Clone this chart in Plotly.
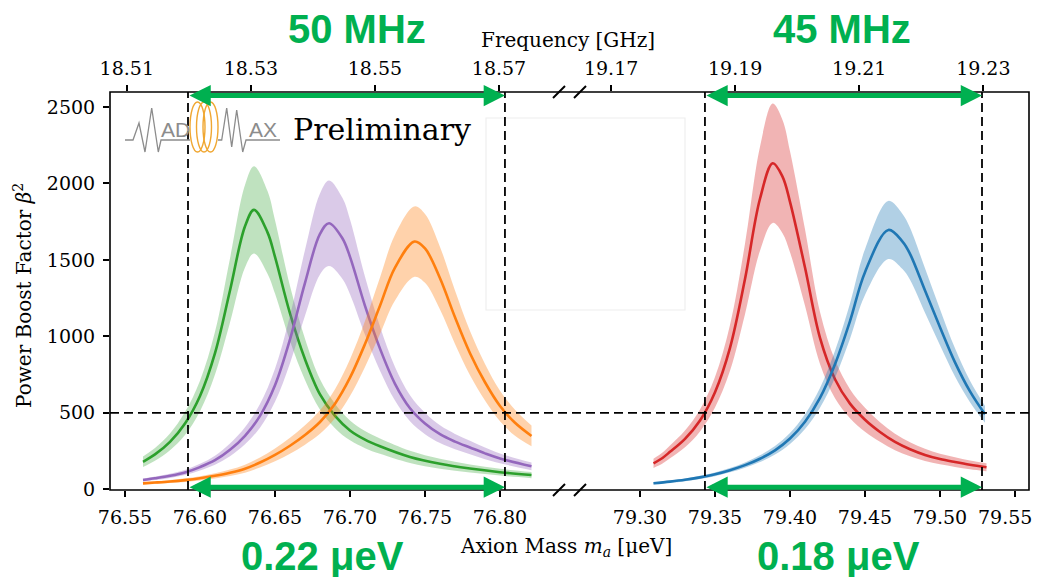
import plotly.graph_objects as go

# ---------------- data ----------------
green_x = [76.562, 76.57, 76.58, 76.59, 76.60, 76.61, 76.62, 76.63, 76.636, 76.645, 76.65, 76.66,
           76.67, 76.68, 76.69, 76.70, 76.71, 76.72, 76.74, 76.76, 76.78, 76.80, 76.821]
green_y = [180, 228, 310, 430, 610, 890, 1300, 1720, 1827, 1680, 1520, 1150,
           850, 620, 480, 385, 325, 282, 212, 167, 136, 112, 93]
green_w = [35, 42, 55, 75, 100, 140, 210, 270, 285, 270, 240, 180,
           135, 100, 80, 65, 56, 50, 40, 32, 26, 22, 20]

purple_x = [76.562, 76.57, 76.58, 76.59, 76.60, 76.61, 76.62, 76.63, 76.64, 76.65, 76.66, 76.67,
            76.68, 76.686, 76.695, 76.70, 76.71, 76.72, 76.73, 76.74, 76.75, 76.76, 76.77,
            76.78, 76.79, 76.80, 76.821]
purple_y = [61, 72, 88, 110, 145, 190, 258, 350, 480, 680, 980, 1350,
            1670, 1740, 1640, 1520, 1200, 920, 690, 530, 430, 360, 312,
            273, 235, 202, 150]
purple_w = [10, 12, 14, 17, 22, 30, 42, 56, 77, 108, 155, 215,
            265, 280, 265, 245, 190, 145, 110, 85, 70, 58, 50,
            44, 38, 32, 25]

orange_x = [76.562, 76.57, 76.58, 76.59, 76.60, 76.61, 76.62, 76.63, 76.64, 76.65, 76.66, 76.67,
            76.68, 76.69, 76.70, 76.71, 76.72, 76.73, 76.743, 76.75, 76.76, 76.77, 76.78,
            76.79, 76.80, 76.81, 76.821]
orange_y = [39, 44, 51, 60, 72, 88, 108, 135, 175, 225, 285, 355,
            440, 560, 730, 950, 1200, 1450, 1620, 1575, 1380, 1125, 890,
            700, 545, 435, 349]
orange_w = [8, 9, 10, 12, 14, 17, 21, 26, 33, 42, 52, 63,
            77, 95, 120, 150, 185, 215, 230, 225, 205, 175, 145,
            120, 100, 85, 68]

red_x = [79.309, 79.315, 79.32, 79.33, 79.34, 79.35, 79.36, 79.37, 79.38, 79.3885, 79.395, 79.40,
         79.41, 79.42, 79.43, 79.44, 79.45, 79.46, 79.47, 79.48, 79.49, 79.50, 79.51, 79.52, 79.531]
red_y = [170, 205, 245, 330, 450, 635, 925, 1375, 1900, 2132, 2045, 1880,
         1450, 990, 720, 560, 455, 375, 310, 262, 225, 198, 178, 160, 144]
red_w = [30, 36, 42, 55, 72, 100, 150, 230, 340, 390, 370, 330,
         250, 170, 125, 95, 78, 64, 54, 46, 40, 35, 32, 29, 26]

blue_x = [79.309, 79.32, 79.33, 79.34, 79.35, 79.36, 79.37, 79.38, 79.39, 79.40, 79.41, 79.42,
          79.43, 79.44, 79.45, 79.4656, 79.475, 79.48, 79.49, 79.50, 79.51, 79.52, 79.53]
blue_y = [39, 50, 62, 78, 98, 125, 158, 200, 255, 332, 442, 598,
          818, 1100, 1420, 1696, 1620, 1540, 1300, 1060, 830, 640, 490]
blue_w = [7, 8, 9, 10, 12, 14, 17, 22, 28, 36, 48, 64,
          88, 115, 150, 190, 180, 170, 145, 118, 92, 70, 55]

threshold = 500
left_edges = [76.592, 76.8033]     # μeV, where the left curves cross the threshold
right_edges = [79.3433, 79.528]

mass_ticks_left = [76.55, 76.60, 76.65, 76.70, 76.75, 76.80]
mass_ticks_right = [79.30, 79.35, 79.40, 79.45, 79.50, 79.55]
freq_ticks_left = [18.51, 18.53, 18.55, 18.57]
freq_ticks_right = [19.17, 19.19, 19.21, 19.23]
y_ticks = [0, 500, 1000, 1500, 2000, 2500]

H_UEV_PER_GHZ = 4.135667696

# ---------------- geometry (page pixels; the page body adds an 8 px margin all round) ----------------
PAGE_W, PAGE_H = 1043, 585
OFF = 8
W, H = PAGE_W - 2 * OFF, PAGE_H - 2 * OFF   # keep the page free of scrollbars
FRAME_L, FRAME_R, FRAME_T, FRAME_B = 110, 1029, 92, 490   # page pixels
L = FRAME_L - OFF
R = W - (FRAME_R - OFF)
T = FRAME_T - OFF
B = H - (FRAME_B - OFF)
PW, PH = FRAME_R - FRAME_L, FRAME_B - FRAME_T
PX_PER_UEV = 1500.0
SPLIT_PX = 570


def fx(px):  # page px -> paper x
    return (px - FRAME_L) / PW


def fy(py):  # page py -> paper y
    return (FRAME_B - py) / PH


split = fx(SPLIT_PX)
left_range = [76.55 - (125 - FRAME_L) / PX_PER_UEV, 76.55 + (SPLIT_PX - 125) / PX_PER_UEV]
right_range = [79.30 - (640 - SPLIT_PX) / PX_PER_UEV, 79.30 + (FRAME_R - 640) / PX_PER_UEV]
y_range = [-4.6, 2598]

serif = "DejaVu Serif"
GREEN = "#00B050"

fig = go.Figure()


def add_curve(xs, ys, ws, color, fillcol, xa):
    lo = [y - w for y, w in zip(ys, ws)]
    hi = [y + w for y, w in zip(ys, ws)]
    fig.add_trace(go.Scatter(x=xs, y=lo, mode="lines", line=dict(width=0, shape="spline", color=fillcol),
                             xaxis=xa, yaxis="y", showlegend=False, hoverinfo="skip"))
    fig.add_trace(go.Scatter(x=xs, y=hi, mode="lines", line=dict(width=0, shape="spline", color=fillcol),
                             fill="tonexty", fillcolor=fillcol,
                             xaxis=xa, yaxis="y", showlegend=False, hoverinfo="skip"))
    fig.add_trace(go.Scatter(x=xs, y=ys, mode="lines", line=dict(width=2.6, shape="spline", color=color),
                             xaxis=xa, yaxis="y", showlegend=False))


add_curve(green_x, green_y, green_w, "#2ca02c", "rgba(44,160,44,0.30)", "x")
add_curve(purple_x, purple_y, purple_w, "#9467bd", "rgba(148,103,189,0.35)", "x")
add_curve(orange_x, orange_y, orange_w, "#ff7f0e", "rgba(255,127,14,0.35)", "x")
add_curve(red_x, red_y, red_w, "#d62728", "rgba(214,39,40,0.35)", "x2")
add_curve(blue_x, blue_y, blue_w, "#1f77b4", "rgba(31,119,180,0.35)", "x2")

# invisible carriers for the frequency axes
fig.add_trace(go.Scatter(x=freq_ticks_left, y=[0] * len(freq_ticks_left), mode="markers",
                         marker=dict(opacity=0), xaxis="x3", yaxis="y", showlegend=False, hoverinfo="skip"))
fig.add_trace(go.Scatter(x=freq_ticks_right, y=[0] * len(freq_ticks_right), mode="markers",
                         marker=dict(opacity=0), xaxis="x4", yaxis="y", showlegend=False, hoverinfo="skip"))

tickfont = dict(family=serif, size=19, color="black")
common_x = dict(showgrid=False, zeroline=False, showline=False, ticks="outside", ticklen=6,
                tickwidth=1.5, tickcolor="black", tickfont=tickfont, fixedrange=True)

# the last right-hand label sits at the page edge; it is drawn as an annotation so it stays inside
right_ticktext = [f"{v:.2f}" for v in mass_ticks_right[:-1]] + [""]

fig.update_layout(
    width=W, height=H, margin=dict(l=L, r=R, t=T, b=B, autoexpand=False),
    paper_bgcolor="white", plot_bgcolor="white",
    xaxis=dict(domain=[0, split], range=left_range, tickvals=mass_ticks_left, anchor="y",
               tickformat=".2f", ticklabelstandoff=4, **common_x),
    xaxis2=dict(domain=[split, 1], range=right_range, tickvals=mass_ticks_right,
                ticktext=right_ticktext, anchor="y", ticklabelstandoff=4, **common_x),
    xaxis3=dict(overlaying="x", side="top", anchor="y",
                range=[v / H_UEV_PER_GHZ for v in left_range], tickvals=freq_ticks_left,
                tickformat=".2f", ticklabelstandoff=2, **common_x),
    xaxis4=dict(overlaying="x2", side="top", anchor="y",
                range=[v / H_UEV_PER_GHZ for v in right_range], tickvals=freq_ticks_right,
                tickformat=".2f", ticklabelstandoff=2, **common_x),
    yaxis=dict(domain=[0, 1], range=y_range, tickvals=y_ticks, anchor="x", showgrid=False,
               zeroline=False, showline=False, ticks="outside", ticklen=6, tickwidth=1.5,
               tickcolor="black", tickfont=tickfont, ticklabelstandoff=4, fixedrange=True),
    showlegend=False,
)

shapes = []
dash = "9px,5px"
# threshold line
shapes.append(dict(type="line", xref="paper", yref="y", x0=0, x1=1, y0=threshold, y1=threshold,
                   line=dict(color="black", width=1.8, dash=dash), layer="above"))
for xv in left_edges:
    shapes.append(dict(type="line", xref="x", yref="paper", x0=xv, x1=xv, y0=0, y1=1,
                       line=dict(color="black", width=1.8, dash=dash), layer="above"))
for xv in right_edges:
    shapes.append(dict(type="line", xref="x2", yref="paper", x0=xv, x1=xv, y0=0, y1=1,
                       line=dict(color="black", width=1.8, dash=dash), layer="above"))
# frame
shapes.append(dict(type="rect", xref="paper", yref="paper", x0=0, x1=1, y0=0, y1=1,
                   line=dict(color="black", width=1.6), layer="above"))
# axis-break marks
for cx in (559, 580):
    for cy in (FRAME_T, FRAME_B):
        shapes.append(dict(type="line", xref="paper", yref="paper",
                           x0=fx(cx - 6), y0=fy(cy + 6), x1=fx(cx + 6), y1=fy(cy - 6),
                           line=dict(color="black", width=2), layer="above"))
# faint legend frame remnant
shapes.append(dict(type="rect", xref="paper", yref="paper", x0=fx(486), x1=fx(685), y0=fy(310), y1=fy(118),
                   line=dict(color="rgba(0,0,0,0.07)", width=1.2), layer="below"))


# logo
def path_from(pts):
    return "M" + " L".join(f"{fx(a):.5f},{fy(b):.5f}" for a, b in pts)


gray = "#8c8c8c"
wave_left = [(125, 140), (133, 140), (139, 123), (145, 152), (151.7, 108), (158.3, 152), (161, 140), (190, 140)]
wave_right = [(218, 140), (221.7, 140), (226.7, 108), (231.7, 147), (236.7, 110), (242.7, 152), (246, 140), (280, 140)]
for wv in (wave_left, wave_right):
    shapes.append(dict(type="path", xref="paper", yref="paper", path=path_from(wv),
                       line=dict(color=gray, width=1.3), layer="above"))
for cx in (197.5, 204, 210.5):
    shapes.append(dict(type="circle", xref="paper", yref="paper",
                       x0=fx(cx - 7.5), x1=fx(cx + 7.5), y0=fy(152), y1=fy(102),
                       line=dict(color="#f0a732", width=1.4), layer="above"))

fig.update_layout(shapes=shapes)

ann = []


def text_at(px, py, text, size, color="black", family=serif, bold=False, angle=0, xanchor="center"):
    t = f"<b>{text}</b>" if bold else text
    ann.append(dict(xref="paper", yref="paper", x=fx(px), y=fy(py), text=t, showarrow=False,
                    xanchor=xanchor, yanchor="middle", textangle=angle,
                    font=dict(family=family, size=size, color=color)))


text_at(568, 40, "Frequency [GHz]", 20)
text_at(566, 547, "Axion Mass <i>m</i><sub><i>a</i></sub> [μeV]", 20)
text_at(23, 296, "Power Boost Factor <i>β</i><sup>2</sup>", 20, angle=-90)
text_at(382, 130, "Preliminary", 30)
text_at(175, 130, "AD", 21, color=gray, family="Liberation Sans")
text_at(263, 130, "AX", 21, color=gray, family="Liberation Sans")
text_at(357, 29, "50 MHz", 40, color=GREEN, family="Liberation Sans", bold=True)
text_at(842, 29, "45 MHz", 40, color=GREEN, family="Liberation Sans", bold=True)
text_at(322, 556, "0.22 μeV", 40, color=GREEN, family="Liberation Sans", bold=True)
text_at(838, 556, "0.18 μeV", 40, color=GREEN, family="Liberation Sans", bold=True)
text_at(1034, 517, f"{mass_ticks_right[-1]:.2f}", 19, xanchor="right")

arrow_y_top = 2575
arrow_y_bot = 14
for xr, edges in (("x", left_edges), ("x2", right_edges)):
    for yv in (arrow_y_top, arrow_y_bot):
        ann.append(dict(xref=xr, yref="y", x=edges[1], y=yv, axref=xr, ayref="y", ax=edges[0], ay=yv,
                        text="", showarrow=True, arrowside="end+start", arrowhead=2, startarrowhead=2,
                        arrowsize=0.85, startarrowsize=0.85, arrowwidth=5, arrowcolor=GREEN,
                        standoff=0, startstandoff=0))

fig.update_layout(annotations=ann)

fig.write_html("out.html")
